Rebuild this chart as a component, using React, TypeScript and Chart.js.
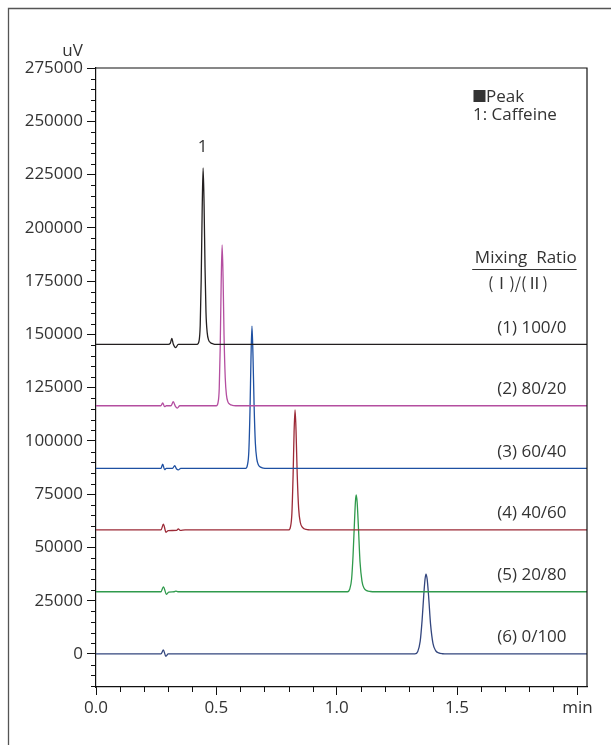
import React, { useEffect, useRef } from 'react';
import { Chart, registerables } from 'chart.js';

Chart.register(...registerables);

// ---- axis ticks ----
const Y_TICKS = [0, 25000, 50000, 75000, 100000, 125000, 150000, 175000, 200000, 225000, 250000, 275000];
const Y_MIN = -15500;
const Y_MAX = 275000;
const X_TICKS = [0, 0.5, 1.0, 1.5, 2.0];
const X_LABELS = ['0.0', '0.5', '1.0', '1.5', 'min'];
const X_MIN = 0;
const X_MAX = 2.04;

// ---- traces (time in min, signal in uV above each trace's baseline) ----
const T1_X = [0, 0.27, 0.3, 0.309, 0.315, 0.321, 0.331, 0.342, 0.42, 0.428, 0.433, 0.437, 0.441, 0.445, 0.449, 0.453, 0.457, 0.462, 0.468, 0.476, 0.486, 0.5, 2.04];
const T1_Y = [0, 0, 0, 600, 2800, 200, -1500, 0, 0, 1500, 9000, 30000, 62000, 82800, 66000, 36000, 15000, 5500, 2000, 800, 250, 0, 0];

const T2_X = [0, 0.27, 0.277, 0.285, 0.292, 0.312, 0.321, 0.33, 0.338, 0.348, 0.5, 0.507, 0.512, 0.516, 0.52, 0.524, 0.528, 0.532, 0.537, 0.542, 0.548, 0.556, 0.566, 0.58, 2.04];
const T2_Y = [0, 0, 1300, -400, 0, 0, 1900, -300, -1100, 0, 0, 1500, 8000, 27000, 57000, 75450, 60000, 33000, 13000, 5000, 1800, 700, 200, 0, 0];

const T3_X = [0, 0.27, 0.277, 0.285, 0.292, 0.318, 0.327, 0.335, 0.342, 0.352, 0.622, 0.629, 0.635, 0.64, 0.644, 0.648, 0.652, 0.657, 0.662, 0.668, 0.675, 0.684, 0.695, 0.71, 2.04];
const T3_Y = [0, 0, 2000, -600, 0, 0, 1300, -300, -700, 0, 0, 1500, 8000, 28000, 52000, 66800, 54000, 29000, 12000, 4500, 1600, 600, 150, 0, 0];

const T4_X = [0, 0.27, 0.28, 0.291, 0.3, 0.335, 0.342, 0.35, 0.37, 0.8, 0.808, 0.814, 0.819, 0.823, 0.827, 0.831, 0.836, 0.842, 0.849, 0.857, 0.867, 0.88, 0.9, 2.04];
const T4_Y = [0, 0, 2700, -1100, -300, -200, 500, -200, 0, 0, 1500, 8000, 26000, 46000, 56300, 47000, 26000, 10000, 3500, 1300, 450, 100, 0, 0];

const T5_X = [0, 0.27, 0.28, 0.293, 0.302, 0.325, 0.332, 0.34, 1.045, 1.054, 1.062, 1.068, 1.074, 1.078, 1.081, 1.085, 1.09, 1.097, 1.105, 1.114, 1.125, 1.14, 1.16, 2.04];
const T5_Y = [0, 0, 2300, -1200, -200, 0, 300, 0, 0, 1200, 6000, 17000, 33000, 42500, 45400, 42000, 31000, 14000, 5000, 1600, 500, 120, 0, 0];

const T6_X = [0, 0.27, 0.28, 0.29, 0.3, 1.325, 1.337, 1.347, 1.355, 1.362, 1.367, 1.371, 1.376, 1.382, 1.39, 1.4, 1.411, 1.424, 1.44, 1.46, 2.04];
const T6_Y = [0, 0, 1900, -1100, 0, 0, 1200, 6000, 16000, 28000, 35000, 37500, 35000, 27000, 14000, 5000, 1600, 500, 100, 0, 0];

const OFFSETS = [145300, 116500, 87100, 58200, 29200, 0];
const RATIO_LABELS = ['(1) 100/0', '(2) 80/20', '(3) 60/40', '(4) 40/60', '(5) 20/80', '(6) 0/100'];
const COLORS = ['#231f20', '#b44ea0', '#1e50a2', '#9c2a37', '#2f9a4c', '#33467e'];

const TRACES_X = [T1_X, T2_X, T3_X, T4_X, T5_X, T6_X];
const TRACES_Y = [T1_Y, T2_Y, T3_Y, T4_Y, T5_Y, T6_Y];

const FONT = "'Open Sans', 'Noto Sans', sans-serif";
const CJK = "'Noto Sans CJK JP', 'Open Sans', sans-serif";
const TEXT = '#333333';

const decorPlugin = {
  id: 'decor',
  beforeDraw(chart: any) {
    const ctx = chart.ctx;
    ctx.save();
    ctx.fillStyle = '#ffffff';
    ctx.fillRect(0, 0, chart.width, chart.height);
    ctx.strokeStyle = '#555555';
    ctx.lineWidth = 1.3;
    ctx.beginPath();
    ctx.moveTo(8.5, chart.height);
    ctx.lineTo(8.5, 8.5);
    ctx.lineTo(chart.width, 8.5);
    ctx.stroke();
    ctx.restore();
  },
  afterDraw(chart: any) {
    const ctx = chart.ctx;
    const { left, right, top, bottom } = chart.chartArea;
    const xs = chart.scales.x;
    const ys = chart.scales.y;
    ctx.save();
    // box top + right
    ctx.strokeStyle = '#111111';
    ctx.lineWidth = 1.2;
    ctx.beginPath();
    ctx.moveTo(left, top);
    ctx.lineTo(right, top);
    ctx.lineTo(right, bottom);
    ctx.stroke();
    // minor ticks
    ctx.lineWidth = 1;
    ctx.beginPath();
    for (let v = -15000; v <= Y_MAX; v += 5000) {
      if (v % 25000 === 0) continue;
      const py = Math.round(ys.getPixelForValue(v)) + 0.5;
      ctx.moveTo(left - 5, py);
      ctx.lineTo(left, py);
    }
    for (let i = 1; i < 20; i++) {
      if (i % 5 === 0) continue;
      const px = Math.round(xs.getPixelForValue(i / 10)) + 0.5;
      ctx.moveTo(px, bottom);
      ctx.lineTo(px, bottom + 5);
    }
    ctx.stroke();

    ctx.fillStyle = TEXT;
    ctx.font = `17px ${FONT}`;
    // unit
    ctx.textAlign = 'right';
    ctx.textBaseline = 'middle';
    ctx.fillText('uV', xs.getPixelForValue(-0.055), ys.getPixelForValue(282700));
    // peak label
    ctx.textAlign = 'center';
    ctx.fillText('1', xs.getPixelForValue(0.443), ys.getPixelForValue(237800));
    // legend
    ctx.textAlign = 'left';
    const lx = xs.getPixelForValue(1.566);
    ctx.font = `15px ${CJK}`;
    ctx.fillText('■', lx - 1, ys.getPixelForValue(261500));
    ctx.font = `17px ${FONT}`;
    ctx.fillText('Peak', lx + 13, ys.getPixelForValue(261500));
    ctx.fillText('1: Caffeine', lx, ys.getPixelForValue(253000));
    // mixing ratio header
    ctx.textAlign = 'right';
    const mr = xs.getPixelForValue(1.997);
    ctx.fillText('Mixing  Ratio', mr, ys.getPixelForValue(185800));
    const uy = Math.round(ys.getPixelForValue(180500)) + 0.5;
    ctx.strokeStyle = TEXT;
    ctx.beginPath();
    ctx.moveTo(xs.getPixelForValue(1.563), uy);
    ctx.lineTo(mr, uy);
    ctx.stroke();
    ctx.textAlign = 'center';
    ctx.font = `16px ${CJK}`;
    ctx.fillText('(Ⅰ)/(Ⅱ)', xs.getPixelForValue(1.753), ys.getPixelForValue(174100));
    // ratio labels
    ctx.textAlign = 'right';
    ctx.font = `17px ${FONT}`;
    RATIO_LABELS.forEach((t, i) => {
      ctx.fillText(t, xs.getPixelForValue(1.955), ys.getPixelForValue(OFFSETS[i] + 7700));
    });
    ctx.restore();
  },
};

export default function App() {
  const ref = useRef<HTMLCanvasElement>(null);
  useEffect(() => {
    document.body.style.margin = '0';
    document.body.style.overflow = 'hidden';
    const datasets = TRACES_X.map((xsArr, i) => ({
      label: RATIO_LABELS[i],
      data: xsArr.map((x, j) => ({ x, y: TRACES_Y[i][j] + OFFSETS[i] })),
      borderColor: COLORS[i],
      borderWidth: 1.3,
      pointRadius: 0,
      fill: false,
      cubicInterpolationMode: 'monotone' as const,
    }));
    const chart = new Chart(ref.current!, {
      type: 'line',
      data: { datasets },
      plugins: [decorPlugin],
      options: {
        animation: false,
        responsive: false,
        maintainAspectRatio: false,
        layout: { padding: { left: 0, top: 68, right: 24, bottom: 0 } },
        plugins: { legend: { display: false }, tooltip: { enabled: false } },
        scales: {
          x: {
            type: 'linear',
            min: X_MIN,
            max: X_MAX,
            afterBuildTicks: (s: any) => {
              s.ticks = X_TICKS.map((v) => ({ value: v }));
            },
            afterFit: (s: any) => {
              s.height = 58;
            },
            ticks: {
              autoSkip: false,
              maxRotation: 0,
              padding: 3,
              color: TEXT,
              font: { family: FONT, size: 17 },
              callback: (v: any) => {
                const idx = X_TICKS.indexOf(Number(v));
                return idx >= 0 ? X_LABELS[idx] : '';
              },
            },
            grid: { drawOnChartArea: false, drawTicks: true, tickLength: 8, color: '#111111', lineWidth: 1 },
            border: { display: true, color: '#111111', width: 1.2 },
          },
          y: {
            type: 'linear',
            min: Y_MIN,
            max: Y_MAX,
            afterBuildTicks: (s: any) => {
              s.ticks = Y_TICKS.map((v) => ({ value: v }));
            },
            afterFit: (s: any) => {
              s.width = 96;
            },
            ticks: {
              autoSkip: false,
              padding: 4,
              color: TEXT,
              font: { family: FONT, size: 17 },
              callback: (v: any) => String(v),
            },
            grid: { drawOnChartArea: false, drawTicks: true, tickLength: 9, color: '#111111', lineWidth: 1 },
            border: { display: true, color: '#111111', width: 1.2 },
          },
        },
      },
    });
    return () => chart.destroy();
  }, []);
  return <canvas ref={ref} width={611} height={745} style={{ display: 'block', width: 611, height: 745 }} />;
}
